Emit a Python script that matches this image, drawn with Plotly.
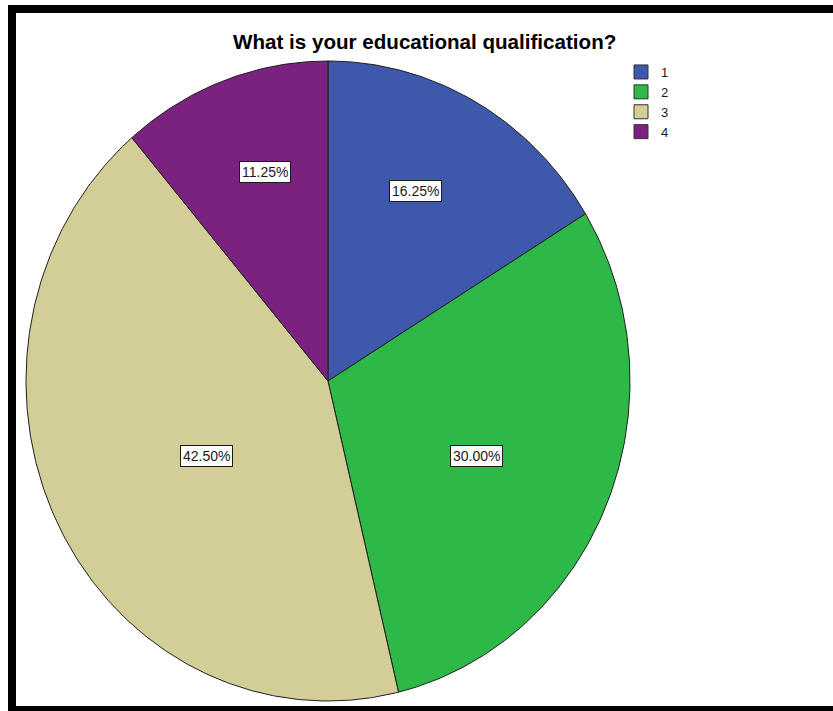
import numpy as np
import plotly.graph_objects as go

# ---- data ----
title_text = "What is your educational qualification?"
categories = ["1", "2", "3", "4"]
percentages = [16.25, 30.00, 42.50, 11.25]
colors = ["#3E58AC", "#2EB848", "#D3CE97", "#7B2281"]

# ---- layout geometry (pixel-like axis units) ----
W, H = 833, 711
CX, CY = 328, 381          # pie centre
RX, RY = 302, 320          # pie radii (SPSS pie is slightly stretched)
LRX, LRY = 281, 342        # radii used for label placement (centroid scaling)
FONT = "Arial, Liberation Sans, sans-serif"

fig = go.Figure()
total = sum(percentages)
start = 0.0
for cat, val, col in zip(categories, percentages, colors):
    a0 = start / total * 2 * np.pi
    a1 = (start + val) / total * 2 * np.pi
    n = max(int(val * 6), 12)
    t = np.linspace(a0, a1, n)
    xs = [CX] + list(CX + RX * np.sin(t)) + [CX]
    ys = [CY] + list(CY - RY * np.cos(t)) + [CY]
    fig.add_trace(go.Scatter(
        x=xs, y=ys, mode="lines", fill="toself", fillcolor=col,
        line=dict(color="#1e1e1e", width=1), showlegend=False,
        hoverinfo="skip"))
    mid = (a0 + a1) / 2
    half = (a1 - a0) / 2
    c = 2.0 / 3.0 * np.sin(half) / half
    lx = CX + c * LRX * np.sin(mid)
    ly = CY - c * LRY * np.cos(mid)
    fig.add_annotation(
        x=lx, y=ly, xref="x", yref="y", text=f"{val:.2f}%", showarrow=False,
        font=dict(family=FONT, size=14, color="#1a1a1a"),
        bgcolor="white", bordercolor="#1a1a1a", borderwidth=1, borderpad=2)
    start += val

# legend entries
for cat, col in zip(categories, colors):
    fig.add_trace(go.Scatter(
        x=[None], y=[None], mode="markers", name=cat,
        marker=dict(symbol="square", size=14, color=col,
                    line=dict(color="#333333", width=1))))

# title
fig.add_annotation(
    x=424.5 / W, y=1 - 41 / H, xref="paper", yref="paper",
    text=f"<b>{title_text}</b>", showarrow=False,
    font=dict(family=FONT, size=20.6, color="black"),
    xanchor="center", yanchor="middle")

# black frame (left, top, bottom)
frame = [
    (8 / W, 16 / W, 0, 1 - 5 / H),
    (8 / W, 1, 1 - 13 / H, 1 - 5 / H),
    (8 / W, 1, 0, (H - 706) / H),
]
for x0, x1, y0, y1 in frame:
    fig.add_shape(type="rect", xref="paper", yref="paper",
                  x0=x0, x1=x1, y0=y0, y1=y1,
                  fillcolor="black", line=dict(width=0), layer="above")

fig.update_layout(
    width=W, height=H,
    margin=dict(l=0, r=0, t=0, b=0),
    paper_bgcolor="white", plot_bgcolor="white",
    xaxis=dict(range=[0, W], visible=False, fixedrange=True),
    yaxis=dict(range=[H, 0], visible=False, fixedrange=True),
    showlegend=True,
    legend=dict(x=621 / W, y=1 - 57 / H, xanchor="left", yanchor="top",
                font=dict(family=FONT, size=13, color="#1a1a1a"),
                bgcolor="rgba(0,0,0,0)", tracegroupgap=0),
    font=dict(family=FONT),
)

fig.write_html("out.html",
               config={"displayModeBar": False},
               post_script="document.body.style.margin='0';document.body.style.overflow='hidden';")
